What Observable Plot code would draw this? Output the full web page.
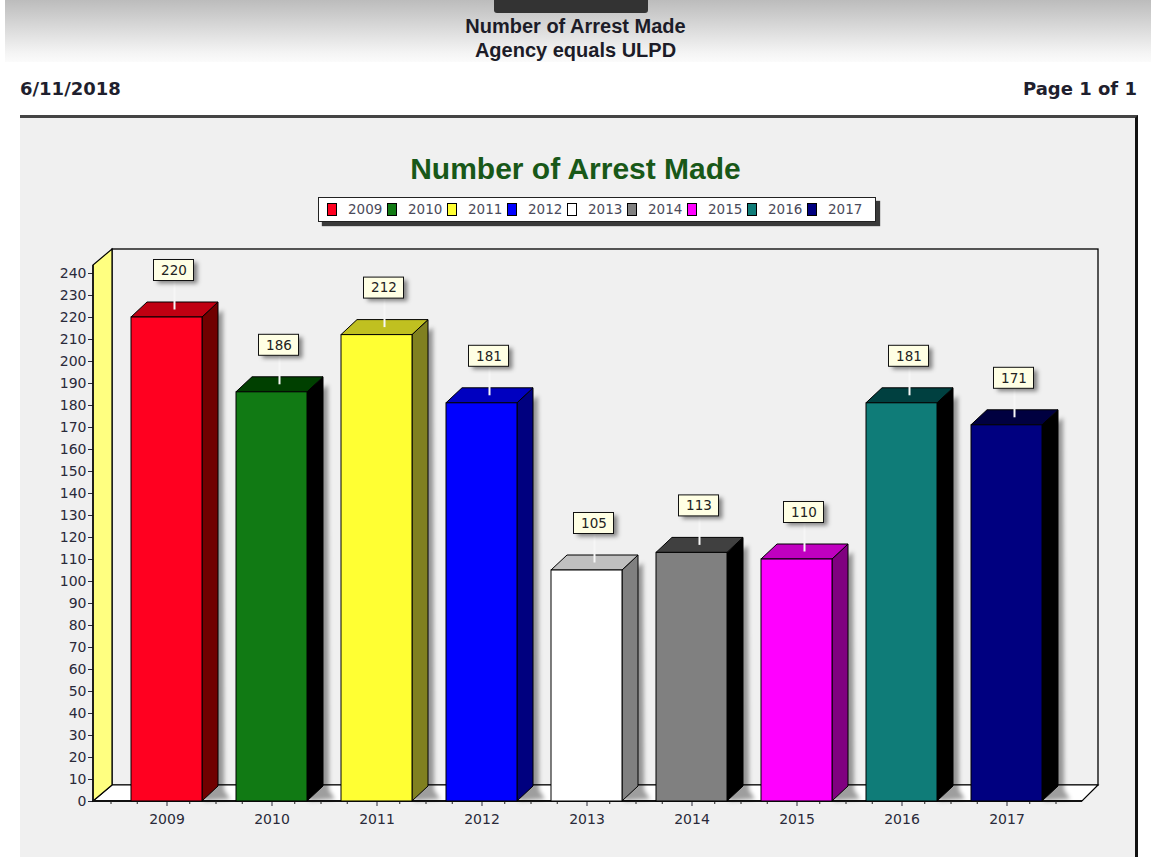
<!DOCTYPE html>
<html>
<head>
<meta charset="utf-8">
<script src="https://cdn.jsdelivr.net/npm/d3@7"></script>
<script src="https://cdn.jsdelivr.net/npm/@observablehq/plot@0.6"></script>
<style>
html, body { margin:0; padding:0; background:#fff; }
body { width:1151px; height:857px; overflow:hidden; position:relative; font-family:"Liberation Sans", Arial, sans-serif; }
#band { position:absolute; left:5px; top:0; width:1146px; height:62px; background:linear-gradient(#bcbcbc, #f4f4f4 85%, #fbfbfb); }
#tab { position:absolute; left:494px; top:0; width:154px; height:13px; background:#333; border-radius:0 0 3px 3px; }
.hdr { position:absolute; left:0; width:1151px; text-align:center; font-weight:bold; font-size:20px; line-height:20px; color:#1c1c28; }
.meta { position:absolute; top:80px; font-family:"DejaVu Sans", sans-serif; font-weight:bold; font-size:18px; line-height:18px; color:#1f1f2e; }
#panel { position:absolute; left:20px; top:115px; width:1118px; height:742px; background:#f0f0f0; border-top:3px solid #444; border-right:3px solid #111; box-sizing:border-box; }
#ctitle { position:absolute; left:0; width:1151px; top:154px; text-align:center; font:bold 30px/30px "Liberation Sans", Arial, sans-serif; color:#185818; }
#legend { position:absolute; left:318px; top:197px; width:558px; height:25px; box-sizing:border-box; background:#fff; border:1px solid #222; box-shadow:4px 4px 1px #3a3a3a; }
.item { position:absolute; top:5px; height:13px; font-family:"DejaVu Sans", sans-serif; font-size:13.5px; line-height:13px; color:#4a4a5a; white-space:nowrap; }
.sw { position:absolute; left:0; top:0; width:10px; height:13px; box-sizing:border-box; border:1px solid #000; }
.lt { position:absolute; left:21px; top:0; }
#chart { position:absolute; left:0; top:240px; }
</style>
</head>
<body>
<div id="band"></div>
<div id="tab"></div>
<div class="hdr" style="top:16px">Number of Arrest Made</div>
<div class="hdr" style="top:40px">Agency equals ULPD</div>
<div class="meta" style="left:20px">6/11/2018</div>
<div class="meta" style="right:14px">Page 1 of 1</div>
<div id="panel"></div>
<div id="ctitle">Number of Arrest Made</div>
<div id="legend"></div>
<div id="chart"></div>
<script>
// ---- data ----
const years = ["2009", "2010", "2011", "2012", "2013", "2014", "2015", "2016", "2017"];
const arrests = [220, 186, 212, 181, 105, 113, 110, 181, 171];
const yTicks = [0, 10, 20, 30, 40, 50, 60, 70, 80, 90, 100, 110, 120, 130, 140, 150, 160, 170, 180, 190, 200, 210, 220, 230, 240];

// ---- styles ----
const frontColors = ["#ff0020", "#117a14", "#ffff33", "#0000ff", "#ffffff", "#808080", "#ff00ff", "#0f7c78", "#000080"];
const topColors   = ["#c00012", "#004000", "#c0c020", "#0000c0", "#c0c0c0", "#404040", "#c000c0", "#004040", "#000040"];
const sideColors  = ["#700000", "#000000", "#808020", "#00007f", "#808080", "#000000", "#800080", "#000000", "#000000"];

const data = years.map((year, i) => ({year, value: arrests[i], i}));

// legend
const legend = document.getElementById("legend");
years.forEach((yr, i) => {
  const it = document.createElement("div");
  it.className = "item";
  it.style.left = (8 + i * 60) + "px";
  it.innerHTML = `<div class="sw" style="background:${frontColors[i]}"></div><div class="lt">${yr}</div>`;
  legend.appendChild(it);
});

const D = 16, DV = 15;   // bar depth
const WD = 19, WDV = 16; // wall depth
const poly = pts => pts.map(p => p.join(",")).join(" ");

function backdrop(index, scales, values, dims) {
  const x = scales.x, y = scales.y;
  const [r0, r1] = x.range();
  const step = x.step();
  const xL = dims.marginLeft;
  const y0 = y(0);
  const yTop = y(240) - 8;
  const backR = r1 + 35;
  const g = d3.create("svg:g");
  g.append("rect").attr("x", xL + WD).attr("y", yTop - WDV).attr("width", backR - xL - WD).attr("height", y0 - yTop)
    .attr("fill", "#f0f0f0").attr("stroke", "#000").attr("stroke-width", 1.3);
  g.append("polygon").attr("points", poly([[xL, y0], [backR - WDV, y0], [backR, y0 - WDV], [xL + WD, y0 - WDV]]))
    .attr("fill", "#fff").attr("stroke", "#000").attr("stroke-width", 1.2);
  g.append("polygon").attr("points", poly([[xL, y0], [xL, yTop], [xL + WD, yTop - WDV], [xL + WD, y0 - WDV]]))
    .attr("fill", "#ffff80").attr("stroke", "#000").attr("stroke-width", 1.2);
  g.append("line").attr("x1", xL).attr("x2", xL).attr("y1", y0).attr("y2", yTop).attr("stroke", "#111").attr("stroke-width", 1.6);
  g.append("line").attr("x1", xL).attr("x2", backR - WDV).attr("y1", y0).attr("y2", y0).attr("stroke", "#111").attr("stroke-width", 1.8);
  for (let k = 0; k <= 36; k++) {
    if (k % 4 === 2) continue;
    const xx = r0 + k * step / 4;
    g.append("line").attr("x1", xx).attr("x2", xx).attr("y1", y0).attr("y2", y0 + 3).attr("stroke", "#222");
  }
  return g.node();
}

function bars3d(index, scales, values, dims) {
  const x = scales.x, y = scales.y;
  const bw = x.bandwidth();
  const y0 = y(0);
  const g = d3.create("svg:g");
  const defs = g.append("defs");
  defs.append("filter").attr("id", "blur3").attr("x", "-50%").attr("y", "-50%").attr("width", "200%").attr("height", "200%")
    .append("feGaussianBlur").attr("stdDeviation", 2.2);
  data.forEach(d => {
    const xl = x(d.year), xr = xl + bw, yt = y(d.value);
    g.append("polygon").attr("points", poly([[xr + 2, yt + 6], [xr + D + 5, yt - DV + 8], [xr + D + 6, y0 - DV + 4], [xr + D + 12, y0 - 2], [xr + 2, y0]]))
      .attr("fill", "rgba(0,0,0,0.38)").attr("filter", "url(#blur3)");
    g.append("polygon").attr("points", poly([[xr, yt], [xr + D, yt - DV], [xr + D, y0 - DV], [xr, y0]]))
      .attr("fill", sideColors[d.i]).attr("stroke", "#000").attr("stroke-width", 1);
    g.append("polygon").attr("points", poly([[xl, yt], [xl + D, yt - DV], [xr + D, yt - DV], [xr, yt]]))
      .attr("fill", topColors[d.i]).attr("stroke", "#000").attr("stroke-width", 1);
  });
  return g.node();
}

function labelBoxes(index, scales, values, dims) {
  const x = scales.x, y = scales.y;
  const bw = x.bandwidth();
  const g = d3.create("svg:g");
  data.forEach(d => {
    const cx = x(d.year) + bw / 2 + D / 2;
    const yt = y(d.value);
    const topMid = yt - DV / 2;
    const boxB = topMid - 29;
    g.append("line").attr("x1", cx).attr("x2", cx).attr("y1", boxB).attr("y2", topMid)
      .attr("stroke", "#f6f6f6").attr("stroke-width", 2);
    g.append("rect").attr("x", cx - 20 + 3).attr("y", boxB - 21 + 3).attr("width", 40).attr("height", 21)
      .attr("fill", "rgba(0,0,0,0.45)").attr("filter", "url(#blur3)");
    g.append("rect").attr("x", cx - 20 - 1).attr("y", boxB - 21).attr("width", 40).attr("height", 21)
      .attr("fill", "#ffffe4").attr("stroke", "#111").attr("stroke-width", 1);
  });
  return g.node();
}

const chart = Plot.plot({
  width: 1151,
  height: 617,
  marginLeft: 93,
  marginRight: 86,
  marginTop: 33,
  marginBottom: 56,
  style: {background: "transparent", overflow: "visible", fontFamily: "DejaVu Sans, sans-serif", fontSize: "14px", color: "#2a2a3a"},
  x: {type: "band", domain: years, range: [111, 1063], paddingInner: 0.32, paddingOuter: 0.16, tickSize: 5, tickPadding: 8, label: null},
  y: {domain: [0, 240], ticks: yTicks, tickSize: 5, tickPadding: 2, tickFormat: d => String(d), label: null},
  marks: [
    backdrop,
    bars3d,
    Plot.barY(data, {x: "year", y: "value", fill: d => frontColors[d.i], stroke: "#000", strokeWidth: 1}),
    labelBoxes,
    Plot.text(data, {x: "year", y: "value", text: d => String(d.value), dx: D / 2 - 1, dy: -47, fontSize: 13.5, fill: "#222"})
  ]
});
document.getElementById("chart").appendChild(chart);
</script>
</body>
</html>
